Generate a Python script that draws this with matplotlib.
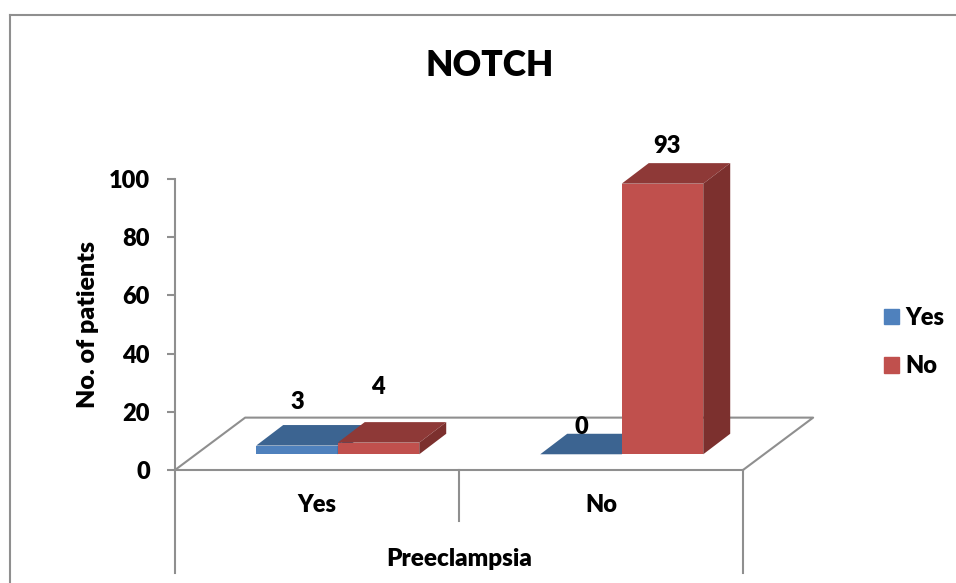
import matplotlib

matplotlib.use("Agg")
import matplotlib.pyplot as plt
from matplotlib.lines import Line2D
from matplotlib.patches import Patch

plt.rcParams["font.family"] = ["Lato", "DejaVu Sans"]
plt.rcParams["font.weight"] = "heavy"

categories = ["Yes", "No"]
yes_values = [3, 0]
no_values = [4, 93]
y_ticks = [0, 20, 40, 60, 80, 100]

W, H = 956, 583
GREY = "#8f8f8f"
FONT = 17
TITLE_FONT = 17.5

# front, top and side shades for each series
YES_COLORS = ("#4f81bd", "#3c6491", "#33557c")
NO_COLORS = ("#c0504d", "#8e3937", "#7c302e")

fig = plt.figure(figsize=(W / 100, H / 100), dpi=100)
ax = fig.add_axes([175 / W, 1 - 470 / H, 568 / W, 291 / H])
ax.set_xlim(0, 2)
ax.set_ylim(0, 100)

# 3d look, all in data units
bar_w = 0.287
lift = 5.4  # bars sit this far up the floor
shift = 0.073  # and this far right of the category centre
depth_x = 0.095
depth_y = 7.05
floor_x = 0.247
floor_y = 18.0


def draw_bar(x, value, colors):
    top = lift + value
    ax.bar(x, value, bar_w, bottom=lift, color=colors[0], align="edge", clip_on=False, zorder=3)
    ax.fill(
        [x, x + bar_w, x + bar_w + depth_x, x + depth_x],
        [top, top, top + depth_y, top + depth_y],
        color=colors[1], lw=0, clip_on=False, zorder=3,
    )
    if value > 0:
        ax.fill(
            [x + bar_w, x + bar_w + depth_x, x + bar_w + depth_x, x + bar_w],
            [lift, lift + depth_y, top + depth_y, top],
            color=colors[2], lw=0, clip_on=False, zorder=3,
        )


# floor of the 3d box
ax.plot([0, floor_x, 2 + floor_x, 2], [0, floor_y, floor_y, 0], color=GREY, lw=1.5, clip_on=False, zorder=1)

# pixel nudges for the value labels, they do not sit at a fixed height
yes_nudge = [(0, 44), (0, 27)]
no_nudge = [(-1, 45), (4, 27)]

for i in range(len(categories)):
    x0 = i + 0.5 + shift - bar_w
    draw_bar(x0, yes_values[i], YES_COLORS)
    draw_bar(x0 + bar_w, no_values[i], NO_COLORS)

for i in range(len(categories)):
    x0 = i + 0.5 + shift - bar_w
    ax.annotate(
        str(yes_values[i]), (x0 + bar_w / 2, lift + yes_values[i]), xytext=yes_nudge[i],
        textcoords="offset pixels", ha="center", va="center", fontsize=FONT, zorder=5,
    )
    ax.annotate(
        str(no_values[i]), (x0 + bar_w * 1.5, lift + no_values[i]), xytext=no_nudge[i],
        textcoords="offset pixels", ha="center", va="bottom", fontsize=FONT, zorder=5,
    )

# axes
for side in ["top", "right"]:
    ax.spines[side].set_visible(False)
for side in ["left", "bottom"]:
    ax.spines[side].set_color(GREY)
    ax.spines[side].set_linewidth(1.5)
ax.spines["left"].set_bounds(-35.5, 100)
ax.set_yticks(y_ticks)
ax.tick_params(axis="y", length=6, width=1.5, color=GREY, labelsize=FONT, pad=12)
ax.set_xticks([0.5, 1.5], categories)
ax.tick_params(axis="x", length=0, labelsize=FONT, pad=17)

# category dividers below the axis
ax.plot([1, 1], [0, -17.5], color=GREY, lw=1.5, clip_on=False)
ax.plot([2, 2], [0, -35.5], color=GREY, lw=1.5, clip_on=False)

ax.set_xlabel("Preeclampsia", fontsize=TITLE_FONT, fontweight="heavy")
ax.xaxis.set_label_coords(0.5, -0.269)
ax.set_ylabel("No. of patients", fontsize=18, fontweight="heavy")
ax.yaxis.set_label_coords(-0.133, 0.50)

fig.text(490 / W, 1 - 65 / H, "NOTCH", fontsize=25.5, fontweight="heavy", ha="center", va="center")

# chart area border, only the top and left show in the crop
fig.add_artist(Line2D([10 / W, 10 / W], [0, 1 - 15 / H], color=GREY, lw=1.5))
fig.add_artist(Line2D([10 / W, 1], [1 - 15 / H, 1 - 15 / H], color=GREY, lw=1.5))

handles = [Patch(color=YES_COLORS[0], label="Yes"), Patch(color=NO_COLORS[0], label="No")]
fig.legend(
    handles=handles, loc="center left", bbox_to_anchor=(863 / W, 1 - 342 / H), frameon=False,
    fontsize=FONT, handlelength=0.64, handleheight=0.64, handletextpad=0.26, labelspacing=1.12,
)

fig.savefig("out.png", dpi=100)
